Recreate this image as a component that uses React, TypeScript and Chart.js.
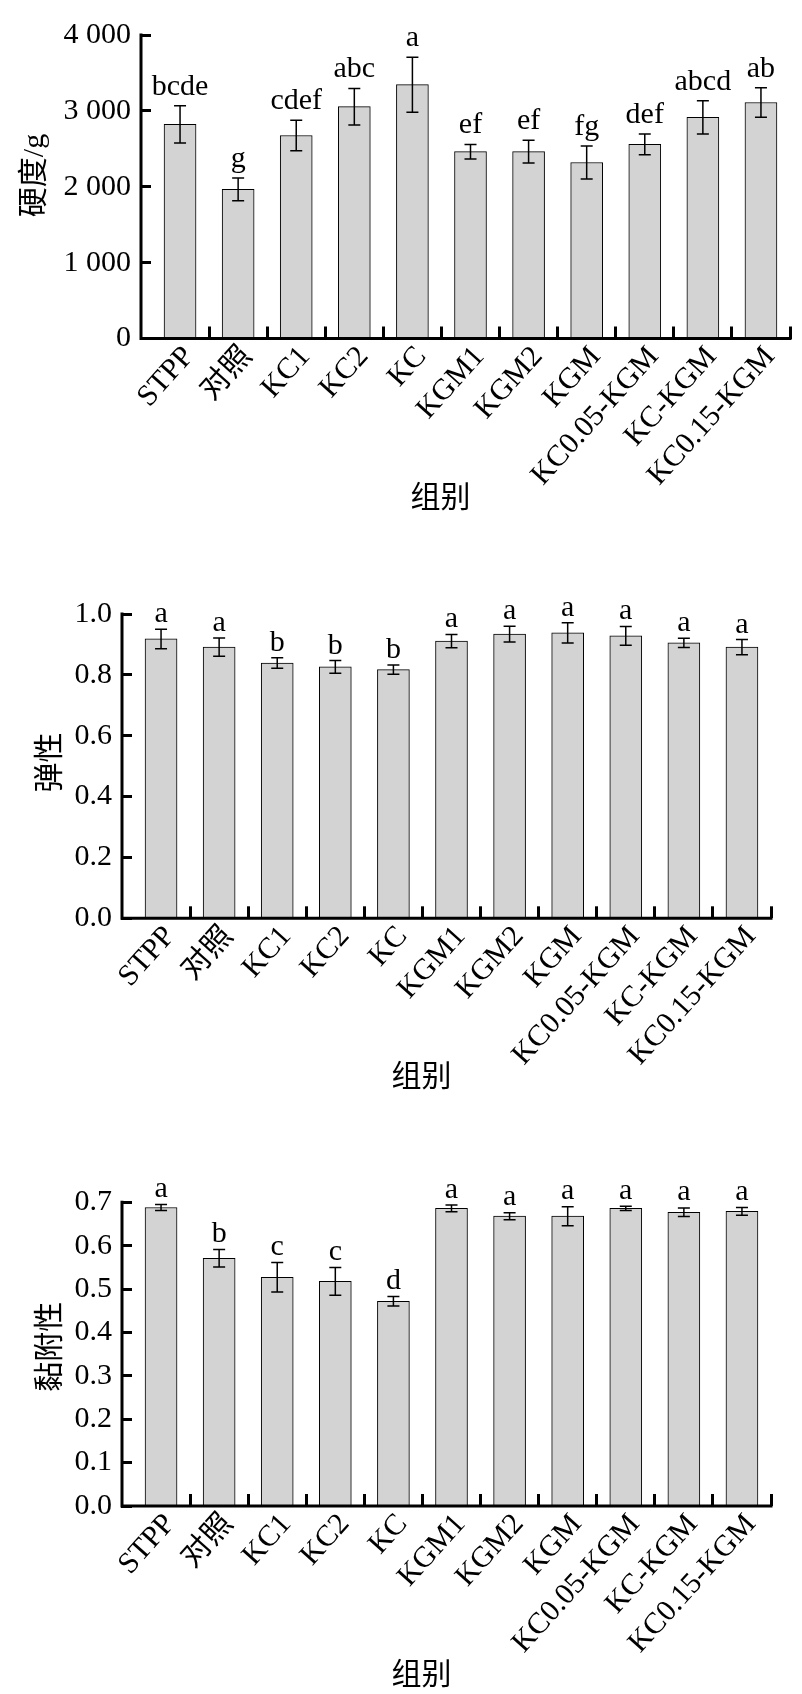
import React, { useEffect, useRef } from 'react';
import { Chart, registerables } from 'chart.js';

Chart.register(...registerables);

// ---------- data ----------
const categories = ['STPP', '对照', 'KC1', 'KC2', 'KC', 'KGM1', 'KGM2', 'KGM', 'KC0.05-KGM', 'KC-KGM', 'KC0.15-KGM'];

const hardness = [2822, 1965, 2675, 3055, 3345, 2462, 2462, 2320, 2558, 2914, 3110];
const hardnessErr = [244, 150, 200, 240, 362, 95, 150, 218, 137, 218, 195];
const hardnessLetters = ['bcde', 'g', 'cdef', 'abc', 'a', 'ef', 'ef', 'fg', 'def', 'abcd', 'ab'];
const hardnessTicks = [0, 1000, 2000, 3000, 4000];

const springiness = [0.918, 0.891, 0.839, 0.826, 0.817, 0.911, 0.934, 0.938, 0.928, 0.905, 0.891];
const springinessErr = [0.032, 0.030, 0.017, 0.021, 0.015, 0.022, 0.026, 0.033, 0.031, 0.015, 0.025];
const springinessLetters = ['a', 'a', 'b', 'b', 'b', 'a', 'a', 'a', 'a', 'a', 'a'];
const springinessTicks = [0, 0.2, 0.4, 0.6, 0.8, 1.0];

const adhesiveness = [0.688, 0.571, 0.527, 0.518, 0.472, 0.686, 0.668, 0.668, 0.686, 0.677, 0.679];
const adhesivenessErr = [0.007, 0.020, 0.034, 0.032, 0.011, 0.0075, 0.008, 0.022, 0.005, 0.010, 0.009];
const adhesivenessLetters = ['a', 'b', 'c', 'c', 'd', 'a', 'a', 'a', 'a', 'a', 'a'];
const adhesivenessTicks = [0, 0.1, 0.2, 0.3, 0.4, 0.5, 0.6, 0.7];

const xTitle = '组别';

// ---------- styling ----------
const FONT_FAMILY = "'Liberation Serif', 'Noto Sans CJK SC', serif";
const BAR_FILL = 'rgb(211,211,211)';

type PanelProps = {
  top: number;
  height: number;
  areaTop: number;
  areaBottom: number;
  left: number;
  right: number;
  values: number[];
  errors: number[];
  letters: string[];
  ticks: number[];
  yTitle: string;
  yTitleLead: number;
  yTitlePad: number;
  xTitlePad: number;
  letterGap: number;
  formatTick: (v: number) => string;
};

function Panel(p: PanelProps) {
  const ref = useRef<HTMLCanvasElement | null>(null);

  useEffect(() => {
    if (!ref.current) return;
    const W = 802;
    const tickMin = p.ticks[0];
    const tickMax = p.ticks[p.ticks.length - 1];
    const step = p.ticks[1] - p.ticks[0];

    const extras = {
      id: 'extras' + p.top,
      afterDatasetsDraw(chart: any) {
        const { ctx, chartArea } = chart;
        const meta = chart.getDatasetMeta(0);
        const y = chart.scales.y;
        ctx.save();
        ctx.strokeStyle = '#000';
        ctx.fillStyle = '#000';
        ctx.lineWidth = 1.5;
        meta.data.forEach((bar: any, i: number) => {
          const x = bar.x;
          const t = y.getPixelForValue(p.values[i] + p.errors[i]);
          const b = y.getPixelForValue(p.values[i] - p.errors[i]);
          ctx.beginPath();
          ctx.moveTo(x, t);
          ctx.lineTo(x, b);
          ctx.moveTo(x - 6, t);
          ctx.lineTo(x + 6, t);
          ctx.moveTo(x - 6, b);
          ctx.lineTo(x + 6, b);
          ctx.stroke();
          ctx.font = `30px ${FONT_FAMILY}`;
          ctx.textAlign = 'center';
          ctx.textBaseline = 'alphabetic';
          ctx.fillText(p.letters[i], x, t - p.letterGap);
        });
        // axis lines
        ctx.lineWidth = 3;
        const ax = chartArea.left - 10;
        ctx.beginPath();
        ctx.moveTo(ax, chartArea.top - 1.5);
        ctx.lineTo(ax, chartArea.bottom);
        ctx.moveTo(ax - 1.5, chartArea.bottom);
        ctx.lineTo(chartArea.right + 1.5, chartArea.bottom);
        ctx.stroke();
        ctx.restore();
      },
    };

    const chart = new Chart(ref.current, {
      type: 'bar',
      data: {
        labels: categories,
        datasets: [
          {
            data: p.values,
            backgroundColor: BAR_FILL,
            borderColor: '#000',
            borderWidth: 1,
            barThickness: 32,
          },
        ],
      },
      options: {
        animation: false,
        responsive: false,
        devicePixelRatio: 1,
        layout: { padding: { top: p.areaTop, left: 0, right: W - p.right, bottom: 0 } },
        plugins: { legend: { display: false }, tooltip: { enabled: false } },
        scales: {
          x: {
            type: 'category',
            offset: true,
            border: { display: false },
            grid: {
              offset: true,
              drawOnChartArea: false,
              drawTicks: true,
              tickLength: -12,
              tickWidth: 3,
              color: (ctx: any) => (ctx.index === 0 ? 'rgba(0,0,0,0)' : '#000'),
            },
            ticks: {
              color: '#000',
              font: { family: FONT_FAMILY, size: 30 },
              autoSkip: false,
              maxRotation: 48,
              minRotation: 48,
              padding: 13,
              labelOffset: 9,
            },
            title: {
              display: true,
              text: xTitle + '\u3000\u3000',
              color: '#000',
              font: { family: FONT_FAMILY, size: 30 },
              padding: { top: 0, bottom: p.xTitlePad },
            },
            afterFit: (scale: any) => {
              scale.height = p.height - p.areaBottom;
            },
          },
          y: {
            min: tickMin,
            max: tickMax,
            border: { display: false },
            grid: {
              drawOnChartArea: false,
              drawTicks: true,
              tickLength: 11,
              tickWidth: 3,
              color: '#000',
            },
            ticks: {
              stepSize: step,
              color: '#000',
              font: { family: FONT_FAMILY, size: 30 },
              padding: 9,
              callback: (v: any) => p.formatTick(Number(v)),
            },
            title: {
              display: true,
              text: ' '.repeat(p.yTitleLead) + p.yTitle,
              color: '#000',
              font: { family: FONT_FAMILY, size: 30 },
              padding: { top: p.yTitlePad, bottom: 0 },
            },
            afterFit: (scale: any) => {
              scale.width = p.left;
            },
          },
        },
      },
      plugins: [extras],
    } as any);

    return () => chart.destroy();
  }, []);

  return (
    <canvas
      ref={ref}
      width={802}
      height={p.height}
      style={{ position: 'absolute', left: 0, top: p.top, width: 802, height: p.height, display: 'block' }}
    />
  );
}

const fmtThousands = (v: number) => String(Math.round(v)).replace(/\B(?=(\d{3})+(?!\d))/g, ' ');
const fmt1 = (v: number) => v.toFixed(1);

export default function App() {
  return (
    <div style={{ position: 'absolute', left: 0, top: 0, width: 802, height: 1694, background: '#fff', overflow: 'hidden' }}>
      <Panel
        top={0}
        height={550}
        areaTop={35}
        areaBottom={338.5}
        left={151}
        right={790}
        values={hardness}
        errors={hardnessErr}
        letters={hardnessLetters}
        ticks={hardnessTicks}
        yTitle="硬度/g"
        yTitleLead={3}
        yTitlePad={17}
        xTitlePad={32.5}
        letterGap={11}
        formatTick={fmtThousands}
      />
      <Panel
        top={560}
        height={570}
        areaTop={54}
        areaBottom={358.3}
        left={132}
        right={771}
        values={springiness}
        errors={springinessErr}
        letters={springinessLetters}
        ticks={springinessTicks}
        yTitle="弹性"
        yTitleLead={1}
        yTitlePad={33}
        xTitlePad={34}
        letterGap={7}
        formatTick={fmt1}
      />
      <Panel
        top={1130}
        height={564}
        areaTop={72.3}
        areaBottom={376}
        left={132}
        right={771}
        values={adhesiveness}
        errors={adhesivenessErr}
        letters={adhesivenessLetters}
        ticks={adhesivenessTicks}
        yTitle="黏附性"
        yTitleLead={2}
        yTitlePad={33}
        xTitlePad={0}
        letterGap={7.5}
        formatTick={fmt1}
      />
    </div>
  );
}
